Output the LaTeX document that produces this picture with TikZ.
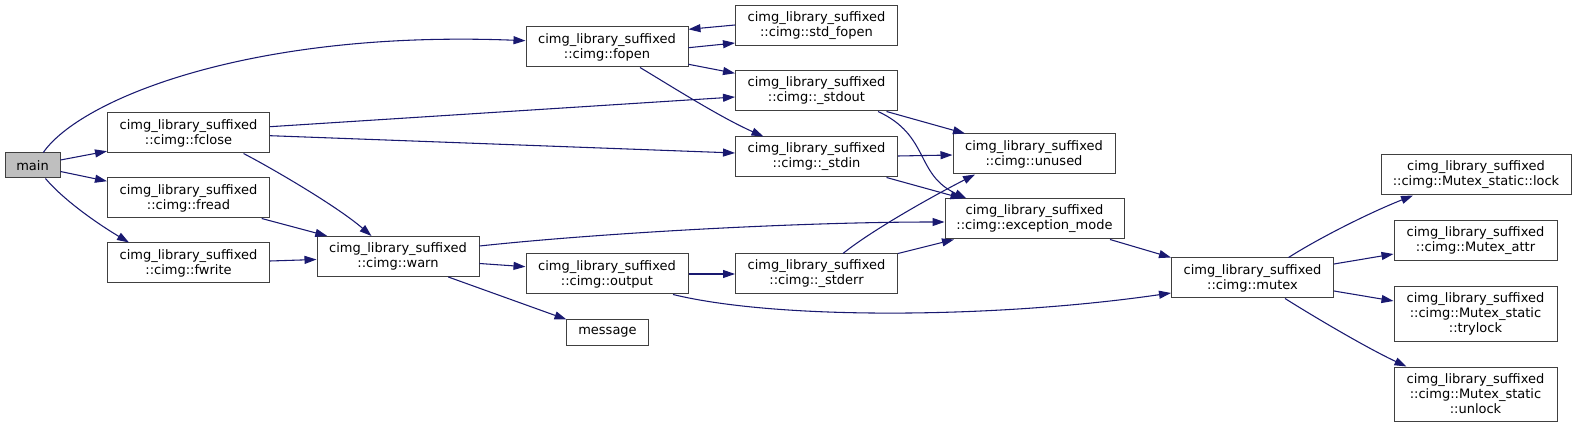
\documentclass[tikz,border=0pt]{standalone}
\usepackage{fontspec}
\setmainfont{DejaVu Sans}
\usetikzlibrary{arrows.meta,calc}
\definecolor{edgeblue}{RGB}{25,25,112}
\definecolor{boxborder}{RGB}{64,64,64}
\definecolor{rootfill}{RGB}{191,191,191}
\begin{document}
\begin{tikzpicture}[x=0.75pt,y=-0.75pt,
  fn/.style={draw=boxborder, line width=0.75pt, fill=white, minimum width=121.5pt,
    minimum height=30pt, inner sep=0pt, align=center,
    font=\fontsize{9.75pt}{11.25pt}\selectfont},
  root/.style={fn, fill=rootfill},
  call/.style={draw=edgeblue, line width=0.8pt,
    -{Triangle[length=9pt,width=6pt]}},
]
\useasboundingbox (0,0) rectangle (1576,427);

% nodes
\node[root, minimum width=41.25pt, minimum height=18.75pt] (main) at (32.5,165.5) {main};
\node[fn] (fclose) at (188.5,133) {cimg\_library\_suffixed\\::cimg::fclose};
\node[fn] (fread)  at (188.5,198) {cimg\_library\_suffixed\\::cimg::fread};
\node[fn] (fwrite) at (188.5,263) {cimg\_library\_suffixed\\::cimg::fwrite};
\node[fn] (warn)   at (398,256.5) {cimg\_library\_suffixed\\::cimg::warn};
\node[fn] (fopen)  at (607,47) {cimg\_library\_suffixed\\::cimg::fopen};
\node[fn] (output) at (607,274) {cimg\_library\_suffixed\\::cimg::output};
\node[fn, minimum width=61.5pt, minimum height=18.75pt] (message) at (607.5,332.5) {message};
\node[fn] (stdfopen) at (816.5,26) {cimg\_library\_suffixed\\::cimg::std\_fopen};
\node[fn] (stdout)   at (816.5,91) {cimg\_library\_suffixed\\::cimg::\_stdout};
\node[fn] (stdin)    at (816.5,157) {cimg\_library\_suffixed\\::cimg::\_stdin};
\node[fn] (stderr)   at (816.5,274) {cimg\_library\_suffixed\\::cimg::\_stderr};
\node[fn] (unused)   at (1034,154) {cimg\_library\_suffixed\\::cimg::unused};
\node[fn, minimum width=134.25pt] (excmode) at (1034.5,219) {cimg\_library\_suffixed\\::cimg::exception\_mode};
\node[fn] (mutex)    at (1252.5,278) {cimg\_library\_suffixed\\::cimg::mutex};
\node[fn, minimum width=142.5pt] (lock) at (1476,175) {cimg\_library\_suffixed\\::cimg::Mutex\_static::lock};
\node[fn, minimum width=122.25pt] (attr) at (1475.5,241) {cimg\_library\_suffixed\\::cimg::Mutex\_attr};
\node[fn, minimum width=122.25pt, minimum height=40.5pt] (trylock) at (1475.5,314) {cimg\_library\_suffixed\\::cimg::Mutex\_static\\::trylock};
\node[fn, minimum width=122.25pt, minimum height=40.5pt] (unlock) at (1475.5,394) {cimg\_library\_suffixed\\::cimg::Mutex\_static\\::unlock};

% edges from main
\draw[call] ($(main.north)+(10.8,0)$) .. controls +(36.7,-53) and +(-276,-11) .. ($(fopen.west)+(0,-6.3)$);
\draw[call] ($(main.east)+(0,-5.5)$) -- ($(fclose.south west)+(0,-2.3)$);
\draw[call] ($(main.east)+(0,6)$) -- ($(fread.north west)+(0,3.7)$);
\draw[call] ($(main.south)+(13,0)$) .. controls +(14,17) and +(-40,-24) .. ($(fwrite.north west)+(22,0)$);

% edges from fclose, fread, fwrite
\draw[call] ($(fclose.east)+(0,-6.3)$) -- ($(stdout.west)+(0,6)$);
\draw[call] ($(fclose.east)+(0,2.7)$) -- ($(stdin.west)+(0,-4)$);
\draw[call] ($(fclose.south)+(55,0)$) .. controls +(21.5,11) and +(-36.5,-31.5) .. ($(warn.north)+(-26.5,0)$);
\draw[call] ($(fread.south)+(73.2,0)$) -- ($(warn.north)+(-70.7,0)$);
\draw[call] ($(fwrite.east)+(0,-2)$) -- ($(warn.west)+(0,3)$);

% edges from fopen
\draw[call] ($(fopen.east)+(0,0.7)$) -- ($(stdfopen.west)+(0,17)$);
\draw[call] ($(stdfopen.west)+(0,-1)$) -- ($(fopen.east)+(0,-17.7)$);
\draw[call] ($(fopen.east)+(0,17.3)$) -- ($(stdout.west)+(0,-17.7)$);
\draw[call] ($(fopen.south)+(33,0)$) .. controls +(30,18) and +(-43,-19) .. ($(stdin.north)+(-53,0)$);

% edges from warn
\draw[call] ($(warn.east)+(0,-10.5)$) .. controls +(121,-13) and +(-145,0) .. ($(excmode.west)+(0,3)$);
\draw[call] ($(warn.east)+(0,7)$) -- ($(output.west)+(0,-7.3)$);
\draw[call] ($(warn.south)+(50.3,0)$) -- ($(message.north)+(-41,0)$);

% edges from output
\draw[call] (output.east) -- (stderr.west);
\draw[call] ($(output.south)+(66,0)$) .. controls +(107,26) and +(-172,25) .. ($(mutex.west)+(0,15)$);

% edges from _stdout, _stdin, _stderr
\draw[call] ($(stdout.south)+(70,0)$) -- ($(unused.north)+(-69,0)$);
\draw[call] ($(stdout.south)+(61.5,0)$) .. controls +(52,24) and +(-51.5,-24) .. ($(excmode.north)+(-68,0)$);
\draw[call] ($(stdin.east)+(0,-1)$) -- ($(unused.west)+(0,1)$);
\draw[call] ($(stdin.south)+(70,0)$) -- ($(excmode.north)+(-72,0)$);
\draw[call] ($(stderr.north)+(26.5,0)$) .. controls +(27,-22) and +(-45,23) .. ($(unused.south)+(-59,0)$);
\draw[call] (stderr.north east) -- ($(excmode.south)+(-80.5,0)$);

% edges to and from mutex
\draw[call] ($(excmode.south)+(75.5,0)$) -- (mutex.north west);
\draw[call] ($(mutex.north)+(36,0)$) .. controls +(31.5,-20) and +(-43,17) .. ($(lock.south)+(-63,0)$);
\draw[call] ($(mutex.east)+(0,-14)$) -- ($(attr.west)+(0,13)$);
\draw[call] ($(mutex.east)+(0,13)$) -- ($(trylock.west)+(0,-13)$);
\draw[call] ($(mutex.south)+(32.5,0)$) .. controls +(35,22) and +(-36.5,-17) .. ($(unlock.north)+(-69,0)$);
\end{tikzpicture}
\end{document}
